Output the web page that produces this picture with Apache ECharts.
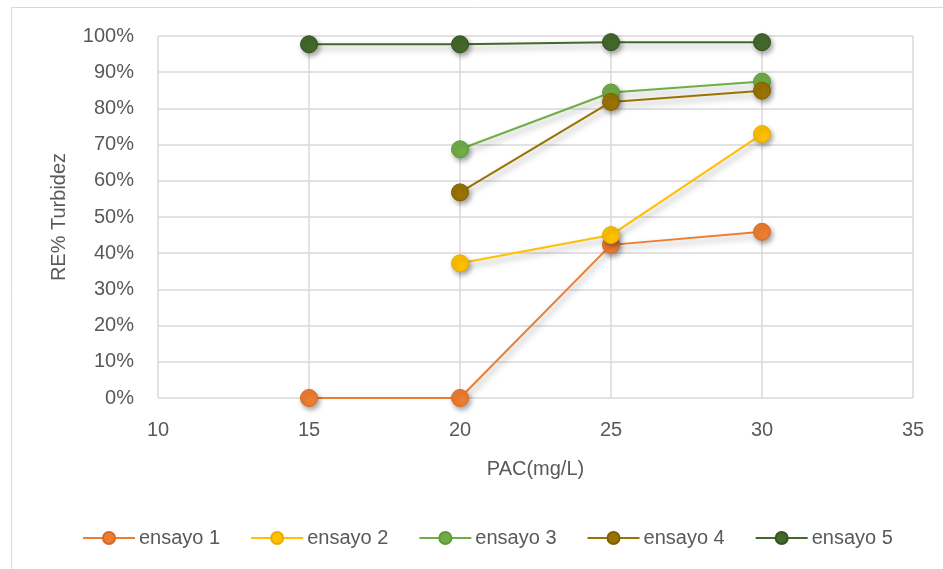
<!DOCTYPE html>
<html>
<head>
<meta charset="utf-8">
<script src="https://cdn.jsdelivr.net/npm/echarts@6/dist/echarts.min.js"></script>
<style>
html,body{margin:0;padding:0;background:#fff;}
#c{width:943px;height:569px;}
</style>
</head>
<body>
<div id="c"></div>
<script>
const seriesNames = ['ensayo 1','ensayo 2','ensayo 3','ensayo 4','ensayo 5'];
const colors = ['#ED7D31','#FFC000','#70AD47','#997300','#43682B'];
const edgeColors = ['#D86A22','#E8AE00','#5E9A38','#805F00','#34541F'];
const ensayo1 = [[15,0],[20,0],[25,42.3],[30,45.9]];
const ensayo2 = [[20,37.2],[25,45.0],[30,72.9]];
const ensayo3 = [[20,68.7],[25,84.4],[30,87.4]];
const ensayo4 = [[20,56.8],[25,81.8],[30,84.9]];
const ensayo5 = [[15,97.7],[20,97.7],[25,98.3],[30,98.3]];
const allData = [ensayo1,ensayo2,ensayo3,ensayo4,ensayo5];
const xTicks = {min:10,max:35,interval:5};
const yTicks = {min:0,max:100,interval:10};

const font = 'Liberation Sans, Arial, sans-serif';
const fs = 20;
const chart = echarts.init(document.getElementById('c'));
chart.setOption({
  animation:false,
  backgroundColor:'#fff',
  graphic:[{type:'rect',shape:{x:11.5,y:7.5,width:960,height:600},style:{fill:'none',stroke:'#D9D9D9',lineWidth:1},z:-10}],
  grid:{left:158,right:30,top:36,bottom:171,containLabel:false},
  xAxis:{type:'value',min:xTicks.min,max:xTicks.max,interval:xTicks.interval,
    name:'PAC(mg/L)',nameLocation:'middle',nameGap:61,
    nameTextStyle:{color:'#595959',fontSize:fs,fontFamily:font},
    axisLine:{show:false},axisTick:{show:false},
    axisLabel:{color:'#595959',fontSize:fs,fontFamily:font,margin:22},
    splitLine:{show:true,lineStyle:{color:'#D9D9D9',width:1.5}}},
  yAxis:{type:'value',min:yTicks.min,max:yTicks.max,interval:yTicks.interval,
    name:'RE% Turbidez',nameLocation:'middle',nameGap:89,
    nameTextStyle:{color:'#595959',fontSize:fs,fontFamily:font},
    axisLine:{show:false},axisTick:{show:false},
    axisLabel:{color:'#595959',fontSize:fs,fontFamily:font,margin:24,formatter:'{value}%'},
    splitLine:{show:true,lineStyle:{color:'#D9D9D9',width:1.5}}},
  legend:{left:82,top:528,padding:0,itemWidth:52,itemHeight:15,itemGap:30,
    textStyle:{color:'#595959',fontSize:fs,fontFamily:font,padding:[0,0,0,-1]},
    data:seriesNames},
  series: seriesNames.map((n,i)=>({
    name:n,type:'line',data:allData[i],
    symbol:'circle',symbolSize:17,
    color:colors[i],
    lineStyle:{color:colors[i],width:2,shadowColor:'rgba(0,0,0,0.35)',shadowBlur:6,shadowOffsetX:2,shadowOffsetY:4},
    itemStyle:{color:colors[i],borderColor:edgeColors[i],borderWidth:1,shadowColor:'rgba(0,0,0,0.35)',shadowBlur:5,shadowOffsetX:2,shadowOffsetY:3},
    emphasis:{disabled:true}
  }))
});
</script>
</body>
</html>
